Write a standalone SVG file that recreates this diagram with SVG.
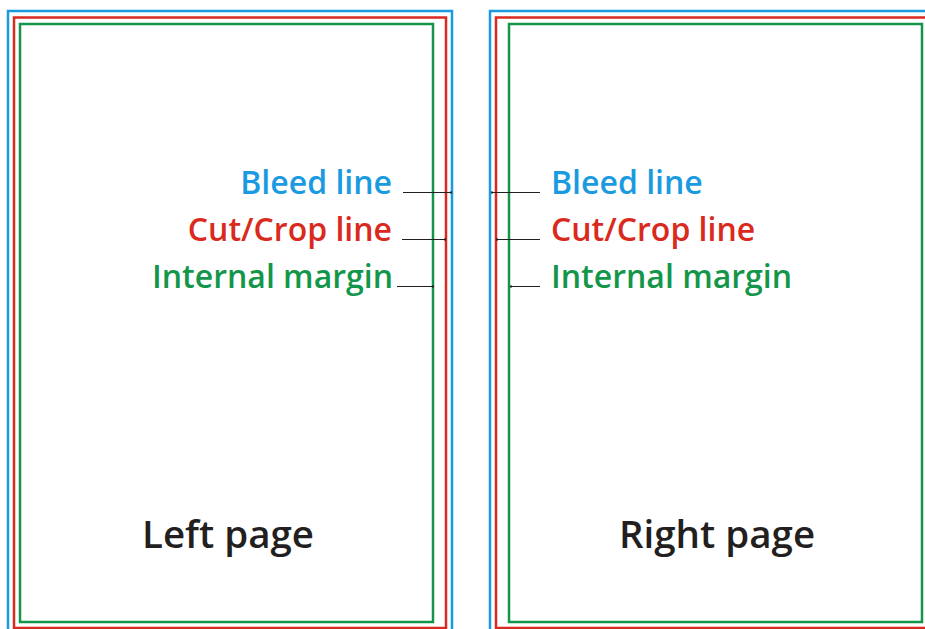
<svg xmlns="http://www.w3.org/2000/svg" width="925" height="629" viewBox="0 0 925 629">
<style>
.frame{fill:none;stroke-width:2.5}
.bleed{stroke:#1a9ae0}
.cut{stroke:#da2a20}
.margin{stroke:#14964a}
.lbl{font-family:"Open Sans","Noto Sans",sans-serif;font-weight:600;font-size:32px}
.tb{fill:#1a9ae0}.tc{fill:#da2a20}.tm{fill:#14964a}
.page{font-family:"Open Sans","Noto Sans",sans-serif;font-weight:600;font-size:38.5px;fill:#231f20;text-anchor:middle}
.lead{stroke:#231f20;stroke-width:1;fill:none}
.dot{fill:#231f20}
</style>
<rect width="925" height="629" fill="#fff"/>
<g id="left-page">
<rect class="frame bleed" x="8" y="11" width="444" height="623"/>
<rect class="frame cut" x="14" y="17.5" width="432" height="610.5"/>
<rect class="frame margin" x="20" y="24" width="413" height="598"/>
<text class="page" x="228" y="548">Left page</text>
</g>
<g id="right-page">
<rect class="frame bleed" x="490" y="11" width="444" height="623"/>
<rect class="frame cut" x="496" y="17.5" width="432" height="610.5"/>
<rect class="frame margin" x="509" y="24" width="413" height="598"/>
<text class="page" x="717" y="548">Right page</text>
</g>
<g id="left-labels">
<text class="lbl tb" x="392" y="194" text-anchor="end">Bleed line</text>
<text class="lbl tc" x="392" y="241" text-anchor="end">Cut/Crop line</text>
<text class="lbl tm" x="393" y="288" text-anchor="end">Internal margin</text>
</g>
<g id="right-labels">
<text class="lbl tb" x="551" y="194">Bleed line</text>
<text class="lbl tc" x="551" y="241">Cut/Crop line</text>
<text class="lbl tm" x="551" y="288">Internal margin</text>
</g>
<g id="connectors">
<path class="lead" d="M403 192.5H451M402 239.5H445M397 286.5H433M492 192.5H540M497 239.5H540M511 286.5H540"/>
<rect class="dot" x="450" y="191.5" width="2" height="2"/>
<rect class="dot" x="444" y="238.5" width="2" height="2"/>
<rect class="dot" x="432" y="285.5" width="2" height="2"/>
<rect class="dot" x="491" y="191.5" width="2" height="2"/>
<rect class="dot" x="496" y="238.5" width="2" height="2"/>
<rect class="dot" x="510" y="285.5" width="2" height="2"/>
</g>
</svg>
